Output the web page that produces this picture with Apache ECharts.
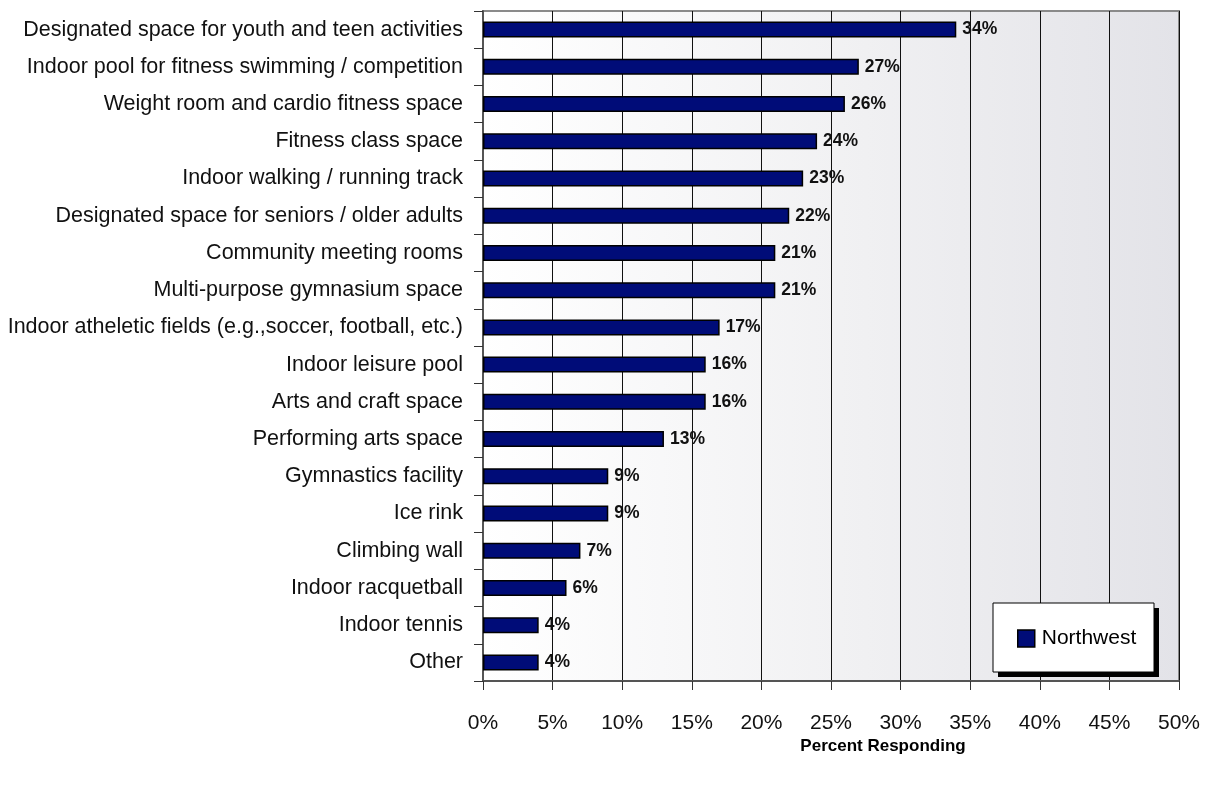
<!DOCTYPE html>
<html>
<head>
<meta charset="utf-8">
<script src="https://cdn.jsdelivr.net/npm/echarts@6/dist/echarts.min.js"></script>
<style>
  html, body { margin: 0; padding: 0; background: #ffffff; }
  #chart { width: 1208px; height: 789px; }
</style>
</head>
<body>
<div id="chart"></div>
<script>
// Facilities, top to bottom
const categories = [
  'Designated space for youth and teen activities',
  'Indoor pool for fitness swimming / competition',
  'Weight room and cardio fitness space',
  'Fitness class space',
  'Indoor walking / running track',
  'Designated space for seniors / older adults',
  'Community meeting rooms',
  'Multi-purpose gymnasium space',
  'Indoor atheletic fields (e.g.,soccer, football, etc.)',
  'Indoor leisure pool',
  'Arts and craft space',
  'Performing arts space',
  'Gymnastics facility',
  'Ice rink',
  'Climbing wall',
  'Indoor racquetball',
  'Indoor tennis',
  'Other'
];

// Percent responding, Northwest
const northwest = [34, 27, 26, 24, 23, 22, 21, 21, 17, 16, 16, 13, 9, 9, 7, 6, 4, 4];

const seriesName = 'Northwest';
const axisTitle = 'Percent Responding';

const FONT = 'Liberation Sans, Arial, sans-serif';

const chart = echarts.init(document.getElementById('chart'), null, { renderer: 'canvas' });

chart.setOption({
  animation: false,
  textStyle: { fontFamily: FONT },
  grid: {
    left: 483,
    right: 29,
    top: 11,
    bottom: 108,
    show: true,
    borderColor: '#8a8a8a',
    borderWidth: 2,
    backgroundColor: new echarts.graphic.LinearGradient(0, 0, 1, 0, [
      { offset: 0, color: '#ffffff' },
      { offset: 0.55, color: '#f0f0f2' },
      { offset: 1, color: '#e3e3e8' }
    ])
  },
  graphic: [
    // legend frame with a hard drop shadow
    {
      type: 'rect',
      z: 50,
      shape: { x: 998, y: 608, width: 161, height: 69 },
      style: { fill: '#000000' }
    },
    {
      type: 'rect',
      z: 51,
      shape: { x: 993, y: 603, width: 161, height: 69 },
      style: { fill: '#ffffff', stroke: '#000000', lineWidth: 1 }
    },
    // x axis title
    {
      type: 'text',
      z: 51,
      x: 883,
      y: 746,
      style: {
        text: axisTitle,
        fontSize: 17,
        fontWeight: 'bold',
        fontFamily: FONT,
        fill: '#000000',
        align: 'center',
        verticalAlign: 'middle'
      }
    }
  ],
  legend: {
    data: [seriesName],
    left: 1017,
    top: 628,
    z: 60,
    orient: 'vertical',
    icon: 'rect',
    itemWidth: 17,
    itemHeight: 17,
    itemGap: 0,
    padding: 0,
    itemStyle: { borderColor: '#000000', borderWidth: 1.5 },
    textStyle: { fontSize: 21, color: '#000000', fontFamily: FONT, padding: [0, 0, 0, 2] }
  },
  xAxis: {
    type: 'value',
    min: 0,
    max: 50,
    interval: 5,
    axisLine: { show: true, lineStyle: { color: '#555555', width: 2 } },
    axisTick: { show: true, length: 9, lineStyle: { color: '#333333', width: 1 } },
    axisLabel: {
      formatter: '{value}%',
      fontSize: 21,
      color: '#111111',
      margin: 32
    },
    splitLine: { show: true, lineStyle: { color: '#111111', width: 1 } }
  },
  yAxis: {
    type: 'category',
    data: categories,
    inverse: true,
    axisLine: { show: true, lineStyle: { color: '#555555', width: 2 } },
    axisTick: { show: true, length: 9, alignWithLabel: false, lineStyle: { color: '#333333', width: 1 } },
    axisLabel: { fontSize: 21.5, color: '#111111', margin: 20 },
    splitLine: { show: false }
  },
  series: [{
    name: seriesName,
    type: 'bar',
    data: northwest,
    barWidth: 16,
    itemStyle: { color: '#000c78', borderColor: '#000000', borderWidth: 1.5 },
    label: {
      show: true,
      position: 'right',
      distance: 6,
      formatter: '{c}%',
      fontSize: 17.5,
      fontWeight: 'bold',
      color: '#111111'
    }
  }]
});
</script>
</body>
</html>
